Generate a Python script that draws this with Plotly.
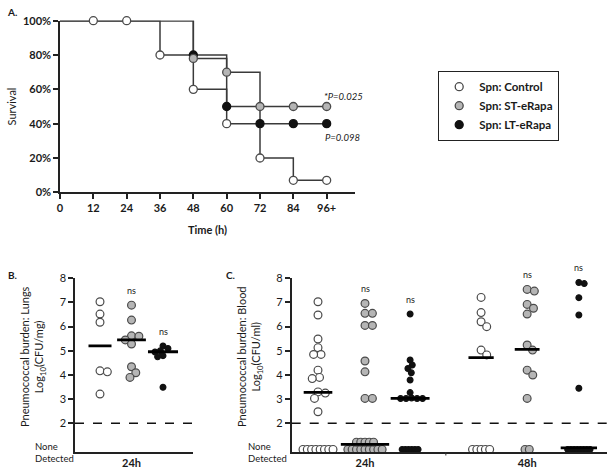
import math
import plotly.graph_objects as go

# ---------------- DATA ----------------
# Panel A: Kaplan-Meier survival (%), step times in hours
surv_times = [0, 12, 24, 36, 48, 60, 72, 84, 96]
surv_control = [100, 100, 100, 80, 60, 40, 20, 7, 7]
st_times = [0, 48, 60, 72, 84, 96]
surv_st = [100, 78, 70, 50, 50, 50]
lt_times = [0, 48, 60, 72, 84, 96]
surv_lt = [100, 80, 50, 40, 40, 40]
a_tick_vals = [0, 12, 24, 36, 48, 60, 72, 84, 96]
a_tick_text = ["0", "12", "24", "36", "48", "60", "72", "84", "96+"]
a_ytick_vals = [0, 20, 40, 60, 80, 100]
a_ytick_text = ["0%", "20%", "40%", "60%", "80%", "100%"]
legend_names = ["Spn: Control", "Spn: ST-eRapa", "Spn: LT-eRapa"]
p_st = "*P=0.025"
p_lt = "P=0.098"

# Panel B: lung burden, log10 CFU/mg, 24h
lung_control = [7.03, 6.52, 6.18, 4.17, 4.13, 3.21]
lung_st = [6.89, 6.27, 5.62, 5.60, 5.45, 5.28, 4.34, 4.09, 3.90]
lung_lt = [5.20, 5.10, 5.00, 4.95, 4.80, 4.75, 3.49]
lung_medians = [5.20, 5.45, 4.96]

# Panel C: blood burden, log10 CFU/ml (detected values) + counts of "none detected"
blood_24_control = [7.03, 6.48, 5.49, 5.13, 4.85, 4.85, 4.20, 3.90, 3.85, 3.30, 3.25, 3.03, 2.48]
blood_24_st = [6.96, 6.55, 6.55, 6.05, 6.05, 4.58, 4.13, 3.03, 3.03]
blood_24_lt = [6.52, 4.62, 4.41, 4.27, 4.09, 3.79, 3.27, 3.05, 3.03, 3.03, 3.03, 3.03]
blood_48_control = [7.21, 6.58, 6.20, 6.00, 5.03, 4.83]
blood_48_st = [7.54, 7.47, 6.92, 6.76, 6.52, 5.24, 5.03, 4.20, 4.00, 3.03]
blood_48_lt = [7.83, 7.78, 7.20, 6.48, 3.45]
nd_rows = [[8], [9, 5], [6], [5], [2], [8]]  # none-detected counts per row
blood_medians = [3.28, 1.13, 3.03, 4.72, 5.06, 0.98]
blood_ns = [None, "ns", "ns", None, "ns", "ns"]
lung_ns = [None, "ns", "ns"]

# ---------------- STYLE / LAYOUT CONSTANTS ----------------
W, H = 612, 476
FONT = "Lato"
TXT = "#1a1a1a"
LINE = "#3a3a3a"
FILLS = ["white", "#b5b5b5", "#111111"]
OUTL = ["#4a4a4a", "#4a4a4a", "#111111"]
SIZES = [7.8, 7.8, 5.8]

def px2x(px):
    return px / W

def px2y(py):
    return 1 - py / H

A_dom_x = [px2x(60), px2x(355)]
A_dom_y = [px2y(192.3), px2y(20.7)]
A_xrange = [0, 106.2]
B_dom_x = [px2x(75), px2x(193)]
C_dom_x = [px2x(291.7), px2x(607)]
BC_dom_y = [px2y(452.3), px2y(278.3)]
BC_yrange = [0.8, 8.0]
PPU_Y = (452.3 - 278.3) / (BC_yrange[1] - BC_yrange[0])

B_pos = [0, 1, 2]
B_ppu = 31.5
B_xrange = [-(100 - 75) / B_ppu, (193 - 100) / B_ppu]
C_pos = [0, 1, 1.96, 3.47, 4.45, 5.55]
C_ppu = 47.0
C_xrange = [-(318 - 291.7) / C_ppu, (607 - 318) / C_ppu]
ND_Y = [0.92, 1.22]


def swarm(ys, d):
    """Simple beeswarm: returns x offsets in px for y values (data) given diameter px."""
    order = sorted(range(len(ys)), key=lambda i: -ys[i])
    placed = []
    offs = [0.0] * len(ys)
    for i in order:
        ypx = ys[i] * PPU_Y
        cands = [0.0]
        for (xj, yj) in placed:
            dy = abs(ypx - yj)
            if dy < d:
                dx = math.sqrt(d * d - dy * dy)
                cands += [xj + dx, xj - dx]
        cands.sort(key=lambda c: (abs(c), -c))
        for c in cands:
            ok = True
            for (xj, yj) in placed:
                if (c - xj) ** 2 + (ypx - yj) ** 2 < d * d - 0.01:
                    ok = False
                    break
            if ok:
                offs[i] = c
                placed.append((c, ypx))
                break
    return offs


fig = go.Figure()

# ---------------- PANEL A ----------------
series = [
    (surv_times, surv_control, 0),
    (st_times, surv_st, 1),
    (lt_times, surv_lt, 2),
]
for t, s, k in series:
    fig.add_trace(go.Scatter(x=t, y=s, mode="lines", line=dict(color=LINE, width=1.5, shape="hv"),
                             showlegend=False, hoverinfo="skip", xaxis="x", yaxis="y"))
for t, s, k in [series[2], series[1], series[0]]:
    fig.add_trace(go.Scatter(x=t[1:], y=s[1:], mode="markers",
                             marker=dict(size=8, color=FILLS[k], line=dict(color=OUTL[k], width=1.3)),
                             showlegend=False, cliponaxis=False, xaxis="x", yaxis="y"))
for k in range(3):
    fig.add_trace(go.Scatter(x=[None], y=[None], mode="markers", name=legend_names[k],
                             marker=dict(size=8, color=FILLS[k], line=dict(color=OUTL[k], width=1.3)),
                             xaxis="x", yaxis="y"))

fig.add_annotation(x=96, y=surv_st[-1], xref="x", yref="y", text="<i>" + p_st + "</i>",
                   showarrow=False, xanchor="left", yanchor="bottom", xshift=-5, yshift=2,
                   font=dict(family=FONT, size=9.5, color=TXT))
fig.add_annotation(x=96, y=surv_lt[-1], xref="x", yref="y", text="<i>" + p_lt + "</i>",
                   showarrow=False, xanchor="left", yanchor="top", xshift=-4, yshift=-6,
                   font=dict(family=FONT, size=9.5, color=TXT))


# ---------------- PANELS B & C ----------------
def add_group(xaxis, yaxis, pos, ppu, vals, k, nd=None, median=None, ns=None):
    d = SIZES[k] * 0.95
    offs = swarm(vals, d) if vals else []
    xs = [pos + o / ppu for o in offs]
    ys = list(vals)
    ext = max([abs(o) for o, v in zip(offs, vals) if median is not None and abs(v - median) < 0.35] + [0])
    if nd:
        sp = SIZES[k] * 0.55
        for r, n in enumerate(nd):
            for i in range(n):
                o = (i - (n - 1) / 2) * sp
                xs.append(pos + o / ppu)
                ys.append(ND_Y[r])
                if median is not None and abs(ND_Y[r] - median) < 0.35:
                    ext = max(ext, abs(o))
    fig.add_trace(go.Scatter(x=xs, y=ys, mode="markers", showlegend=False, cliponaxis=False,
                             marker=dict(size=SIZES[k], color=FILLS[k], line=dict(color=OUTL[k], width=1.2)),
                             xaxis=xaxis, yaxis=yaxis))
    if median is not None:
        hw = max(11.5, ext + 7) / ppu
        fig.add_trace(go.Scatter(x=[pos - hw, pos + hw], y=[median, median], mode="lines", showlegend=False,
                                 line=dict(color="#000", width=2.8), cliponaxis=False, hoverinfo="skip",
                                 xaxis=xaxis, yaxis=yaxis))
    if ns:
        top = max(ys)
        fig.add_annotation(x=pos, y=top, xref=xaxis, yref=yaxis, text=ns, showarrow=False,
                           yanchor="bottom", yshift=7, font=dict(family=FONT, size=9, color=TXT))


lung_groups = [lung_control, lung_st, lung_lt]
for k in range(3):
    add_group("x2", "y2", B_pos[k], B_ppu, lung_groups[k], k, median=lung_medians[k], ns=lung_ns[k])

blood_groups = [blood_24_control, blood_24_st, blood_24_lt, blood_48_control, blood_48_st, blood_48_lt]
for g in range(6):
    add_group("x3", "y3", C_pos[g], C_ppu, blood_groups[g], g % 3, nd=nd_rows[g],
              median=blood_medians[g], ns=blood_ns[g])

# dashed detection limit lines
for xr, yr in [("x2 domain", "y2"), ("x3 domain", "y3")]:
    fig.add_shape(type="line", xref=xr, yref=yr, x0=0, x1=1, y0=2, y1=2,
                  line=dict(color="#111", width=1.6, dash="dash"))
# small tick on panel C x-axis
fig.add_shape(type="line", xref="x3", yref="paper", x0=2.72, x1=2.72,
              y0=px2y(452.3), y1=px2y(455.5), line=dict(color="#333", width=1))

# ---------------- AXES ----------------
axfont = dict(family=FONT, size=11, color=TXT)
common = dict(showgrid=False, zeroline=False, showline=True, linecolor="#222", linewidth=1.5,
              automargin=False)
fig.update_layout(
    template="none",
    width=W, height=H, margin=dict(l=0, r=0, t=0, b=0, pad=0, autoexpand=False),
    paper_bgcolor="white", plot_bgcolor="white",
    font=dict(family=FONT, color=TXT),
    xaxis=dict(domain=A_dom_x, range=A_xrange, tickvals=a_tick_vals, ticktext=a_tick_text,
               ticks="outside", ticklen=5, tickwidth=1.5, tickcolor="#222",
               tickfont=dict(family=FONT, size=11, color=TXT, weight="bold"),
               anchor="y", title=dict(text="<b>Time (h)</b>", font=dict(family=FONT, size=11, color=TXT), standoff=13),
               **common),
    yaxis=dict(domain=A_dom_y, range=[0, 100], tickvals=a_ytick_vals, ticktext=a_ytick_text,
               ticks="outside", ticklen=5, tickwidth=1.5, tickcolor="#222",
               tickfont=dict(family=FONT, size=11, color=TXT, weight="bold"),
               anchor="x", title=dict(text="Survival", font=dict(family=FONT, size=11, color=TXT), standoff=4),
               **common),
    xaxis2=dict(domain=B_dom_x, range=B_xrange, tickvals=[1], ticktext=["<b>24h</b>"], ticks="",
                tickfont=axfont, anchor="y2", **common),
    yaxis2=dict(domain=BC_dom_y, range=BC_yrange, tickvals=[2, 3, 4, 5, 6, 7, 8],
                ticks="outside", ticklen=5, tickwidth=1.5, tickcolor="#222", tickfont=axfont, anchor="x2",
                **common),
    xaxis3=dict(domain=C_dom_x, range=C_xrange, tickvals=[1, 4.45], ticktext=["<b>24h</b>", "<b>48h</b>"],
                ticks="", tickfont=axfont, anchor="y3", **common),
    yaxis3=dict(domain=BC_dom_y, range=BC_yrange, tickvals=[2, 3, 4, 5, 6, 7, 8],
                ticks="outside", ticklen=5, tickwidth=1.5, tickcolor="#222", tickfont=axfont, anchor="x3",
                **common),
    legend=dict(x=px2x(438), y=px2y(71), xanchor="left", yanchor="top",
                bordercolor="#222", borderwidth=1.2, bgcolor="white",
                font=dict(family=FONT, size=11.5, color=TXT, weight="bold"), itemwidth=30, tracegroupgap=0),
)

# panel letters and y titles
for txt, x, y in [("A.", 5, 12), ("B.", 6, 275), ("C.", 224, 275)]:
    fig.add_annotation(x=px2x(x), y=px2y(y), xref="paper", yref="paper", text="<b>" + txt + "</b>",
                       showarrow=False, xanchor="left", yanchor="middle", font=dict(family=FONT, size=10, color=TXT))

for x, lines in [(33, ["Pneumococcal burden: Lungs", "Log<sub>10</sub>(CFU/mg)"]),
                 (250, ["Pneumococcal burden: Blood", "Log<sub>10</sub>(CFU/ml)"])]:
    fig.add_annotation(x=px2x(x), y=px2y(357), xref="paper", yref="paper", text="<br>".join(lines),
                       showarrow=False, textangle=-90, xanchor="center", yanchor="middle",
                       font=dict(family=FONT, size=11, color=TXT))

for x in [33, 246]:
    fig.add_annotation(x=px2x(x), y=px2y(452), xref="paper", yref="paper", text="None<br>Detected",
                       showarrow=False, xanchor="left", yanchor="middle", align="left",
                       font=dict(family=FONT, size=9.5, color=TXT))

fig.write_html("out.html", config={"displayModeBar": False},
               post_script="document.body.style.margin='0';")
